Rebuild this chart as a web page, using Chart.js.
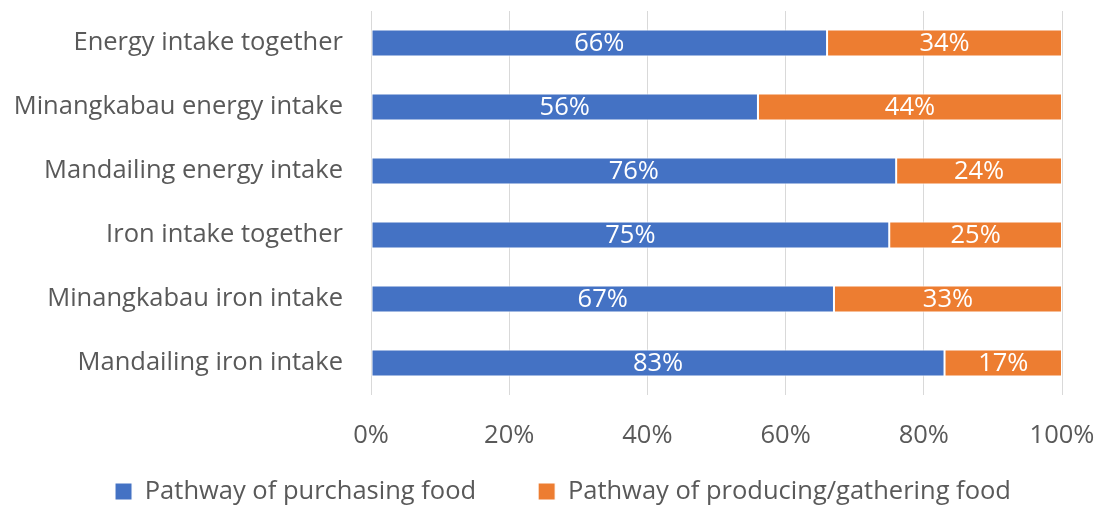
<!DOCTYPE html>
<html>
<head>
<meta charset="utf-8">
<script src="https://cdn.jsdelivr.net/npm/chart.js@4"></script>
<style>
  html, body { margin: 0; padding: 0; background: #fff; }
  #wrap { width: 1101px; height: 507px; position: relative; }
</style>
</head>
<body>
<div id="wrap"><canvas id="grafica"></canvas></div>
<script>
const categories = [
    'Energy intake together',
    'Minangkabau energy intake',
    'Mandailing energy intake',
    'Iron intake together',
    'Minangkabau iron intake',
    'Mandailing iron intake'
];
const purchasing = [66, 56, 76, 75, 67, 83];
const producing = [34, 44, 24, 25, 33, 17];
const seriesNames = ['Pathway of purchasing food', 'Pathway of producing/gathering food'];
const tickLabels = ['0%', '20%', '40%', '60%', '80%', '100%'];

const FONT = '"Open Sans", sans-serif';
const SIZE = 25.5;

// etiquetas de valor centradas en cada segmento
const valueLabels = {
    id: 'valueLabels',
    afterDatasetsDraw(chart) {
        const ctx = chart.ctx;
        ctx.save();
        ctx.fillStyle = '#ffffff';
        ctx.font = SIZE + 'px ' + FONT;
        ctx.textAlign = 'center';
        ctx.textBaseline = 'middle';
        chart.data.datasets.forEach((ds, i) => {
            chart.getDatasetMeta(i).data.forEach((bar, j) => {
                const x = (bar.x + bar.base) / 2;
                ctx.fillText(ds.data[j] + '%', x, bar.y + 1);
            });
        });
        ctx.restore();
    }
};

// la leyenda ocupa poca altura y se recoloca bajo el eje
const legendPlace = {
    id: 'legendPlace',
    beforeInit(chart) {
        const fit = chart.legend.fit;
        chart.legend.fit = function () {
            fit.call(this);
            this.height = 47;
        };
    },
    afterLayout(chart) {
        const lg = chart.legend;
        lg.left = 25;
        lg.right = chart.width;
        lg.top = 416.75;
        lg.bottom = chart.height;
    }
};

const ctx = document.getElementById('grafica').getContext('2d');

new Chart(ctx, {
    type: 'bar',
    data: {
        labels: categories,
        datasets: [{
            label: seriesNames[0],
            data: purchasing,
            backgroundColor: '#4472C4',
            borderColor: '#ffffff',
            borderWidth: 1,
            borderSkipped: false
        }, {
            label: seriesNames[1],
            data: producing,
            backgroundColor: '#ED7D31',
            borderColor: '#ffffff',
            borderWidth: 1,
            borderSkipped: false
        }]
    },
    options: {
        indexAxis: 'y',
        responsive: true,
        maintainAspectRatio: false,
        animation: false,
        layout: { padding: { left: 0, right: 39, top: 11, bottom: 0 } },
        datasets: { bar: { categoryPercentage: 0.42, barPercentage: 1 } },
        scales: {
            x: {
                stacked: true,
                min: 0,
                max: 100,
                border: { display: false },
                grid: { color: '#d9d9d9', lineWidth: 1, drawTicks: false },
                ticks: {
                    stepSize: 20,
                    padding: 25,
                    minRotation: 0,
                    maxRotation: 0,
                    color: '#595959',
                    font: { family: FONT, size: SIZE },
                    callback: (v, i) => tickLabels[i]
                },
                afterFit: (s) => {
                    s.height = 65;
                    s.paddingLeft = 0;
                    s.paddingRight = 0;
                }
            },
            y: {
                stacked: true,
                border: { display: false },
                grid: { display: false, drawTicks: false },
                ticks: {
                    padding: 28,
                    color: '#595959',
                    font: { family: FONT, size: SIZE }
                },
                afterFit: (s) => {
                    s.width = 371;
                    s.paddingTop = 0;
                    s.paddingBottom = 0;
                }
            }
        },
        plugins: {
            legend: {
                position: 'bottom',
                labels: {
                    boxWidth: 17,
                    boxHeight: 17,
                    padding: 62,
                    color: '#595959',
                    font: { family: FONT, size: SIZE }
                }
            },
            tooltip: { enabled: false }
        }
    },
    plugins: [valueLabels, legendPlace]
});
</script>
</body>
</html>
